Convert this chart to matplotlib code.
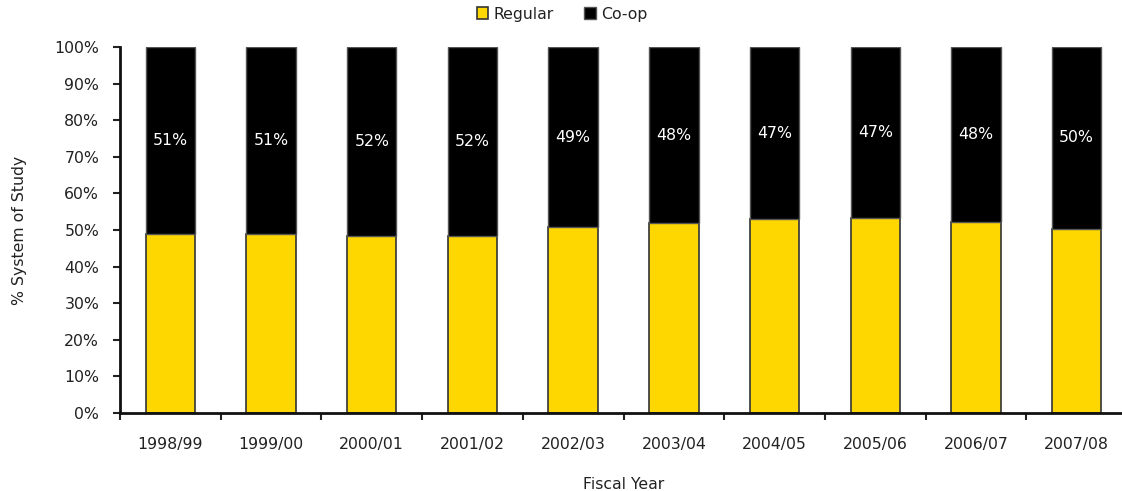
import matplotlib
matplotlib.use("Agg")
import matplotlib.pyplot as plt
import numpy as np
from matplotlib.ticker import FixedLocator, PercentFormatter

years = ["1998/99", "1999/00", "2000/01", "2001/02", "2002/03",
         "2003/04", "2004/05", "2005/06", "2006/07", "2007/08"]
regular = [48.8, 48.8, 48.3, 48.3, 50.7, 51.8, 53.0, 53.4, 52.2, 50.3]
coop = [51.2, 51.2, 51.7, 51.7, 49.3, 48.2, 47.0, 46.6, 47.8, 49.7]

plt.rcParams['font.family'] = ['DejaVu Sans']
W, H = 1122, 491
fig = plt.figure(figsize=(W / 100, H / 100), dpi=100)
ax = fig.add_axes([120 / W, (H - 413) / H, (1127 - 120) / W, (413 - 47) / H])

fs = 11.3
x = np.arange(len(years))
bw = 0.49
text_col = '#222222'
ax.bar(x, regular, bw, color='#FFD700', edgecolor='#333333', linewidth=1.2, label='Regular', zorder=2)
ax.bar(x, coop, bw, bottom=regular, color='#000000', edgecolor='#555555', linewidth=1.0, label='Co-op', zorder=2)

for xi, r, c in zip(x, regular, coop):
    ax.text(xi, r + c / 2, f"{round(c):d}%", ha='center', va='center', color='white', fontsize=fs, zorder=3)

ax.set_xlim(-0.5, len(years) - 0.5)
ax.set_ylim(0, 100)
ax.yaxis.set_major_locator(FixedLocator(np.arange(0, 101, 10)))
ax.yaxis.set_major_formatter(PercentFormatter(decimals=0))
ax.set_xticks(x)
ax.set_xticklabels(years)
ax.xaxis.set_minor_locator(FixedLocator(np.arange(-0.5, len(years), 1.0)))
ax.tick_params(axis='x', which='major', length=0, pad=17, labelsize=fs, labelcolor=text_col)
ax.tick_params(axis='x', which='minor', length=5, width=1.5, direction='out', color='#222222')
ax.tick_params(axis='y', length=5, width=1.5, direction='out', labelsize=fs, labelcolor=text_col, color='#222222', pad=10)

for s in ['top', 'right']:
    ax.spines[s].set_visible(False)
for s in ['left', 'bottom']:
    ax.spines[s].set_linewidth(2)
    ax.spines[s].set_color('#111111')

ax.set_xlabel("Fiscal Year", fontsize=fs, color=text_col, labelpad=18)
ax.set_ylabel("% System of Study", fontsize=fs, color=text_col, labelpad=20)

leg = fig.legend(loc='center', bbox_to_anchor=(562 / W, (H - 14) / H), ncol=2, frameon=False,
                 fontsize=fs, handlelength=0.75, handleheight=0.75, handletextpad=0.35, columnspacing=1.9)
for t in leg.get_texts():
    t.set_color(text_col)

fig.savefig("out.png", dpi=100)
